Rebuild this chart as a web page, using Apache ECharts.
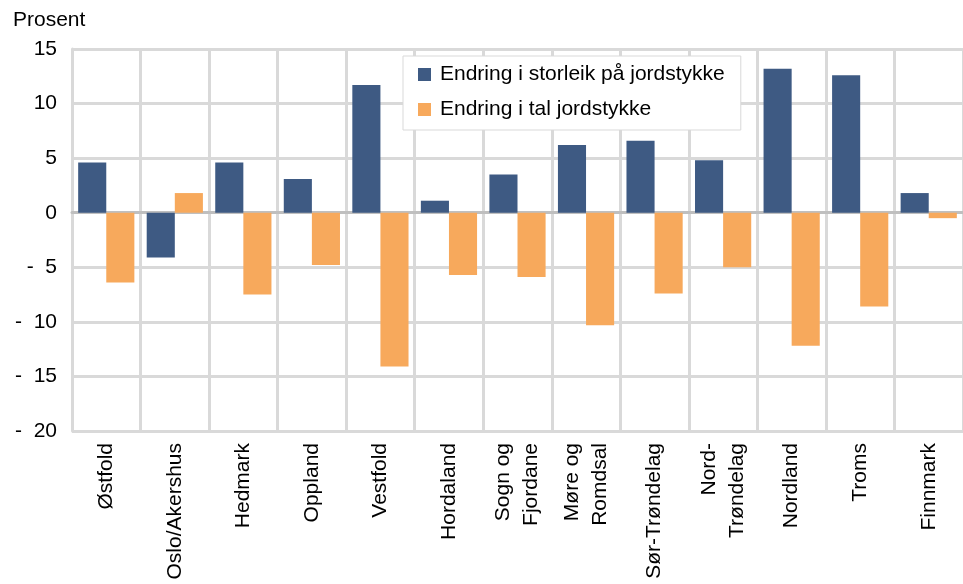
<!DOCTYPE html>
<html>
<head>
<meta charset="utf-8">
<script src="https://cdn.jsdelivr.net/npm/echarts@6/dist/echarts.min.js"></script>
<style>
html,body{margin:0;padding:0;background:#fff;}
#chart{width:963px;height:584px;}
</style>
</head>
<body>
<div id="chart"></div>
<script>
var categories = ['Østfold','Oslo/Akershus','Hedmark','Oppland','Vestfold','Hordaland','Sogn og\nFjordane','Møre og\nRomdsal','Sør-Trøndelag','Nord-\nTrøndelag','Nordland','Troms','Finnmark'];
var storleik = [4.6, -4.1, 4.6, 3.1, 11.7, 1.1, 3.5, 6.2, 6.6, 4.8, 13.2, 12.6, 1.8];
var tal = [-6.4, 1.8, -7.5, -4.8, -14.1, -5.7, -5.9, -10.3, -7.4, -5.0, -12.2, -8.6, -0.5];
var seriesNames = ['Endring i storleik på jordstykke', 'Endring i tal jordstykke'];
var yTitle = 'Prosent';

var FONT = 'Liberation Sans, Arial, sans-serif';
var FS = 21;
var chart = echarts.init(document.getElementById('chart'), null, {renderer:'canvas'});
chart.setOption({
  animation: false,
  backgroundColor: '#ffffff',
  textStyle: {fontFamily: FONT},
  graphic: [{
    type: 'text', left: 13, top: 10,
    style: {text: yTitle, font: FS + 'px ' + FONT, fill: '#000'}
  }],
  legend: {
    orient: 'vertical',
    left: 403, top: 56,
    padding: [8, 16, 10, 15],
    itemGap: 14,
    itemWidth: 13, itemHeight: 13,
    icon: 'rect',
    backgroundColor: '#ffffff',
    borderColor: '#d9d9d9', borderWidth: 1,
    textStyle: {fontSize: FS, color: '#000', fontFamily: FONT, padding: [0,0,0,4]},
    data: seriesNames
  },
  grid: {left: 72, top: 49, width: 901, height: 382, containLabel: false},
  xAxis: [{
    type: 'category',
    data: categories,
    position: 'bottom',
    axisLine: {show: false, onZero: false},
    axisTick: {show: false},
    splitLine: {show: true, lineStyle: {color: '#d9d9d9', width: 3}},
    axisLabel: {rotate: 90, fontSize: FS, color: '#000', margin: 12, lineHeight: 28, fontFamily: FONT, interval: 0}
  }, {
    type: 'category',
    data: categories,
    axisLine: {show: true, onZero: true, lineStyle: {color: '#bfbfbf', width: 3}},
    axisTick: {show: false},
    axisLabel: {show: false},
    splitLine: {show: false}
  }],
  yAxis: {
    type: 'value',
    min: -20, max: 15, interval: 5,
    axisLine: {show: true, lineStyle: {color: '#d9d9d9', width: 3}},
    axisTick: {show: false},
    splitLine: {show: true, lineStyle: {color: '#d9d9d9', width: 3}},
    axisLabel: {
      fontSize: FS, color: '#000', margin: 15, fontFamily: FONT,
      formatter: function (v) { return v < 0 ? '-  ' + Math.abs(v) : String(v); }
    }
  },
  series: [{
    name: seriesNames[0], type: 'bar', data: storleik,
    barGap: '0%', barCategoryGap: '18%',
    itemStyle: {color: '#3E5A83'}
  }, {
    name: seriesNames[1], type: 'bar', data: tal,
    barGap: '0%', barCategoryGap: '18%',
    itemStyle: {color: '#F7A95C'}
  }]
});
</script>
</body>
</html>
